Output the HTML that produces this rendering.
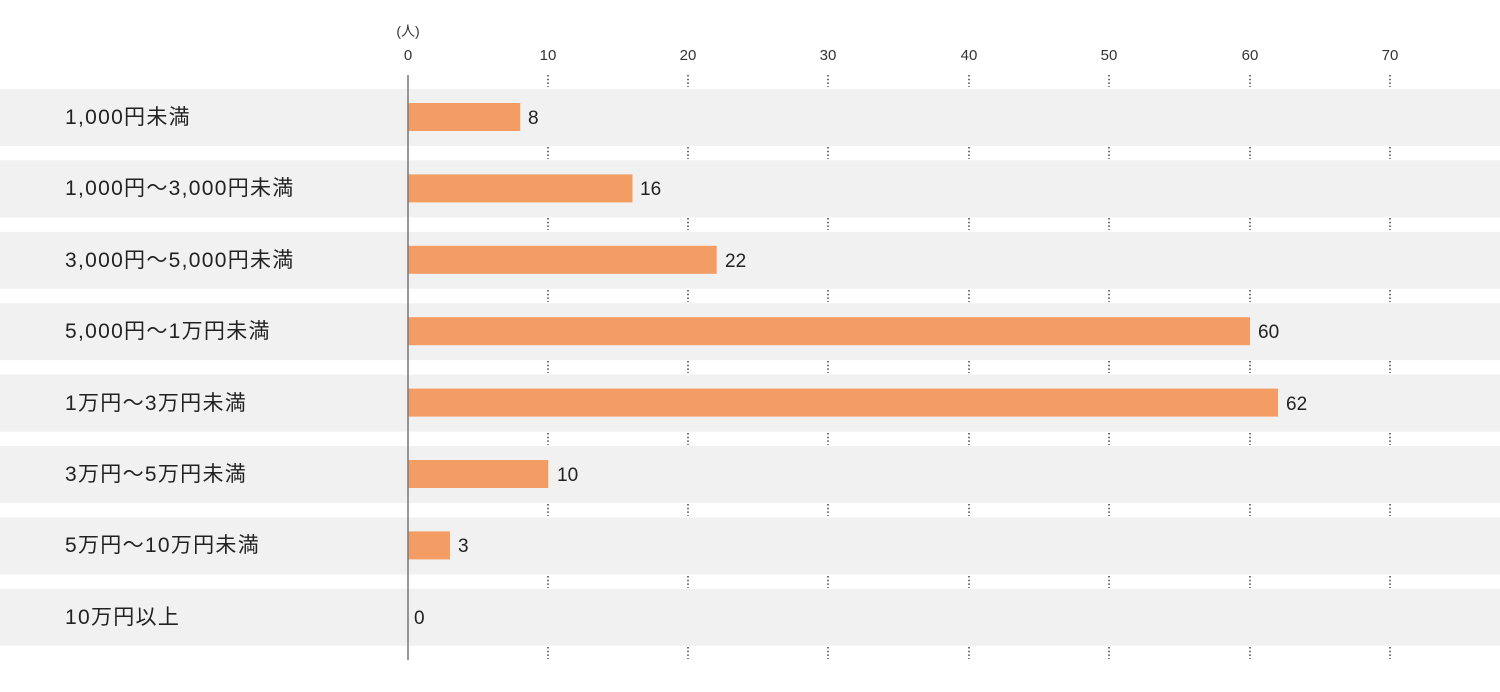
<!DOCTYPE html>
<html><head><meta charset="utf-8"><style>
body{margin:0;width:1500px;height:687px;background:#fff;overflow:hidden;font-family:"Liberation Sans","Noto Sans CJK JP",sans-serif}
</style></head><body>
<svg width="1500" height="687" xmlns="http://www.w3.org/2000/svg" font-family="Liberation Sans, Noto Sans CJK JP, sans-serif">
<g id="bands" fill="#f1f1f1">
<rect x="0" y="89" width="1500" height="57"/>
<rect x="0" y="160.4" width="1500" height="57"/>
<rect x="0" y="231.8" width="1500" height="57"/>
<rect x="0" y="303.2" width="1500" height="57"/>
<rect x="0" y="374.6" width="1500" height="57"/>
<rect x="0" y="446" width="1500" height="57"/>
<rect x="0" y="517.4" width="1500" height="57"/>
<rect x="0" y="588.8" width="1500" height="57"/>
</g>
<g stroke="#444" stroke-width="1.5" stroke-dasharray="1.5,2.2">
<path d="M548 75v12M688 75v12M828 75v12M969 75v12M1109 75v12M1250 75v12M1390 75v12"/>
<path d="M548 147v12M688 147v12M828 147v12M969 147v12M1109 147v12M1250 147v12M1390 147v12"/>
<path d="M548 218v12M688 218v12M828 218v12M969 218v12M1109 218v12M1250 218v12M1390 218v12"/>
<path d="M548 290v12M688 290v12M828 290v12M969 290v12M1109 290v12M1250 290v12M1390 290v12"/>
<path d="M548 361v12M688 361v12M828 361v12M969 361v12M1109 361v12M1250 361v12M1390 361v12"/>
<path d="M548 433v12M688 433v12M828 433v12M969 433v12M1109 433v12M1250 433v12M1390 433v12"/>
<path d="M548 504v12M688 504v12M828 504v12M969 504v12M1109 504v12M1250 504v12M1390 504v12"/>
<path d="M548 576v12M688 576v12M828 576v12M969 576v12M1109 576v12M1250 576v12M1390 576v12"/>
<path d="M548 647v12M688 647v12M828 647v12M969 647v12M1109 647v12M1250 647v12M1390 647v12"/>
</g>
<g fill="#333" font-size="15" text-anchor="middle">
<text x="408" y="36" font-size="14">(人)</text>
<text x="408" y="60">0</text><text x="548" y="60">10</text><text x="688" y="60">20</text><text x="828" y="60">30</text><text x="969" y="60">40</text><text x="1109" y="60">50</text><text x="1250" y="60">60</text><text x="1390" y="60">70</text>
</g>
<g fill="#f39c64">
<rect x="408" y="103" width="112.2" height="28"/>
<rect x="408" y="174.4" width="224.5" height="28"/>
<rect x="408" y="245.8" width="308.7" height="28"/>
<rect x="408" y="317.2" width="842" height="28"/>
<rect x="408" y="388.6" width="870" height="28"/>
<rect x="408" y="460" width="140.3" height="28"/>
<rect x="408" y="531.4" width="42" height="28"/>
</g>
<line x1="408" y1="75" x2="408" y2="660" stroke="#777" stroke-width="1.5"/>
<g fill="#222" font-size="19">
<text x="528" y="124">8</text>
<text x="640" y="195">16</text>
<text x="725" y="267">22</text>
<text x="1258" y="338">60</text>
<text x="1286" y="410">62</text>
<text x="557" y="481">10</text>
<text x="458" y="552">3</text>
<text x="414" y="624">0</text>
</g>
<g fill="#222" font-size="21" letter-spacing="1.3">
<text x="65" y="124">1,000円未満</text>
<text x="65" y="195">1,000円～3,000円未満</text>
<text x="65" y="267">3,000円～5,000円未満</text>
<text x="65" y="338">5,000円～1万円未満</text>
<text x="65" y="410">1万円～3万円未満</text>
<text x="65" y="481">3万円～5万円未満</text>
<text x="65" y="552">5万円～10万円未満</text>
<text x="65" y="624">10万円以上</text>
</g>
</svg>
</body></html>
